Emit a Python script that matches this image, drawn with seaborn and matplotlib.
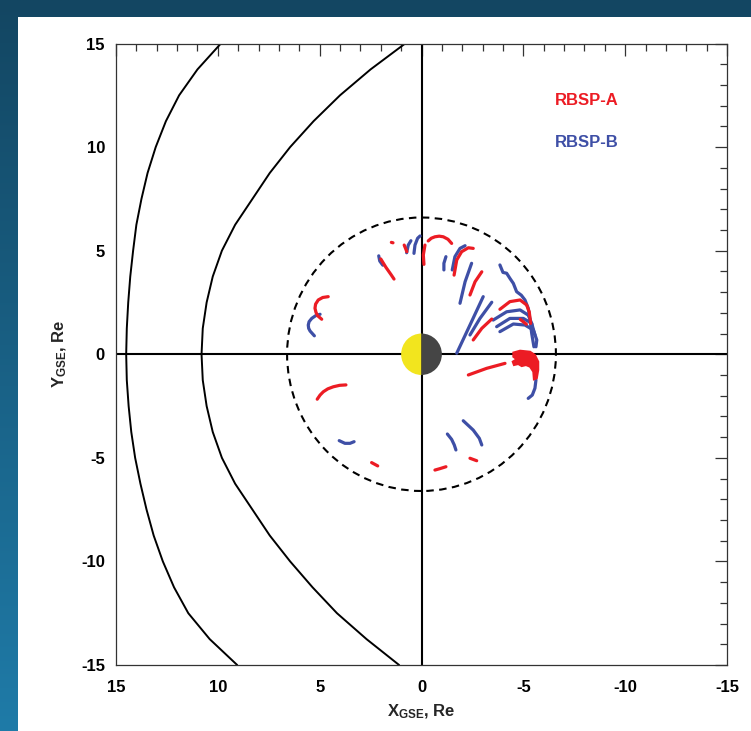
import numpy as np
import pandas as pd
import matplotlib
matplotlib.use("Agg")
import matplotlib.pyplot as plt
from matplotlib.patches import Circle, Wedge, Rectangle
from matplotlib.ticker import MultipleLocator
import seaborn as sns

sns.set_theme(style="white")
plt.rcParams["font.family"] = ["Liberation Sans", "DejaVu Sans"]
plt.rcParams["font.weight"] = "bold"
plt.rcParams["mathtext.fontset"] = "custom"
plt.rcParams["mathtext.rm"] = "Liberation Sans:bold"
plt.rcParams["mathtext.it"] = "Liberation Sans:bold"
plt.rcParams["mathtext.bf"] = "Liberation Sans:bold"

# ---------------------------------------------------------------- data
X_TICKS = [15, 10, 5, 0, -5, -10, -15]
Y_TICKS = [-15, -10, -5, 0, 5, 10, 15]
GEO_RADIUS = 6.6
EARTH_RADIUS = 1.0

# magnetopause (X, Y) in Re
MP_X = [0.8, 2.5, 4.0, 5.3, 6.45, 7.45, 8.3, 9.15, 9.8, 10.25, 10.55, 10.74, 10.8,
        10.74, 10.55, 10.25, 9.8, 9.15, 8.3, 7.45, 6.45, 5.35, 4.15, 2.7, 1.1]
MP_Y = [15.0, 13.75, 12.5, 11.25, 10.0, 8.75, 7.5, 6.25, 5.0, 3.75, 2.5, 1.25, 0.0,
        -1.25, -2.5, -3.75, -5.0, -6.25, -7.5, -8.75, -10.0, -11.25, -12.5, -13.75, -15.0]

# bow shock (X, Y) in Re
BS_X = [9.85, 11.0, 11.9, 12.55, 13.05, 13.45, 13.75, 14.0, 14.16, 14.3, 14.4, 14.47, 14.5,
        14.47, 14.38, 14.25, 14.06, 13.8, 13.5, 13.15, 12.7, 12.15, 11.45, 10.4, 9.05]
BS_Y = [15.0, 13.75, 12.5, 11.25, 10.0, 8.75, 7.5, 6.25, 5.0, 3.75, 2.5, 1.25, 0.0,
        -1.25, -2.5, -3.75, -5.0, -6.25, -7.5, -8.75, -10.0, -11.25, -12.5, -13.75, -15.0]

# RBSP-A track pieces, (X, Y) in Re
A_01 = [(1.48, 5.40), (1.40, 5.38)]
A_02 = [(0.85, 5.27), (0.78, 5.10), (0.72, 4.95)]
A_03 = [(2.0, 4.6), (1.75, 4.2), (1.5, 3.85), (1.35, 3.63)]
A_04 = [(4.58, 2.78), (4.85, 2.74), (5.07, 2.62), (5.2, 2.42), (5.23, 2.22), (5.18, 2.02),
        (5.10, 1.86), (4.90, 1.69)]
A_05 = [(-0.33, 5.47), (-0.48, 5.6), (-0.66, 5.67), (-0.87, 5.7), (-1.07, 5.67),
        (-1.3, 5.55), (-1.48, 5.35)]
A_06 = [(-0.17, 5.27), (-0.09, 4.79), (-0.12, 4.34)]
A_07 = [(-1.60, 3.82), (-1.73, 4.55), (-1.97, 4.95), (-2.30, 5.14), (-2.54, 5.11)]
A_08 = [(-2.38, 2.86), (-2.63, 3.50), (-2.96, 3.98)]
A_09 = [(-2.54, 0.69), (-2.96, 1.25), (-3.45, 1.70)]
A_10 = [(-3.85, 2.17), (-4.34, 2.54), (-4.84, 2.62), (-5.16, 2.38), (-5.29, 2.05), (-5.36, 1.49)]
A_11 = [(-4.85, 1.68), (-5.15, 1.45)]
A_12 = [(-2.30, -1.00), (-3.20, -0.68), (-4.10, -0.44)]
A_13 = [(-2.38, -5.02), (-2.71, -5.14)]
A_14 = [(-0.66, -5.59), (-0.91, -5.52), (-1.20, -5.43)]
A_15 = [(5.12, -2.17), (4.98, -1.97), (4.82, -1.81), (4.6, -1.67), (4.33, -1.57),
        (4.02, -1.5), (3.71, -1.48)]
A_16 = [(2.45, -5.23), (2.15, -5.39)]
# dense cluster of RBSP-A points near the dusk-side crossing
A_CLUSTER = [(-4.51, 0.08), (-4.84, 0.17), (-5.33, 0.12), (-5.57, -0.04), (-5.73, -0.36),
             (-5.73, -0.76), (-5.66, -1.16), (-5.52, -1.21), (-5.49, -0.84), (-5.33, -0.60),
             (-5.13, -0.52), (-4.92, -0.57), (-4.75, -0.47), (-4.54, -0.52), (-4.48, -0.36),
             (-4.67, -0.24), (-4.51, -0.12)]

# RBSP-B track pieces, (X, Y) in Re
B_01 = [(0.73, 4.90), (0.65, 5.27), (0.52, 5.48)]
B_02 = [(0.37, 4.87), (0.32, 5.27), (0.19, 5.60), (0.07, 5.71)]
B_03 = [(2.1, 4.75), (2.05, 4.5), (1.9, 4.3)]
B_04 = [(4.98, 1.93), (5.2, 1.86), (5.39, 1.73), (5.52, 1.57), (5.56, 1.41), (5.54, 1.25),
        (5.47, 1.12), (5.26, 0.89)]
B_05 = [(-1.20, 4.71), (-1.10, 4.39), (-1.10, 4.07)]
B_06 = [(-1.51, 4.07), (-1.64, 4.71), (-1.89, 5.11), (-2.14, 5.24)]
B_07 = [(-1.89, 2.46), (-2.14, 3.50), (-2.46, 4.39)]
B_08 = [(-1.73, 0.05), (-2.38, 1.41), (-3.03, 2.78)]
B_09 = [(-2.38, 0.93), (-2.87, 1.73), (-3.45, 2.51)]
B_10 = [(-3.85, 4.31), (-4.00, 3.95), (-4.18, 3.91), (-4.35, 3.65), (-4.51, 3.42), (-4.67, 3.02),
        (-4.90, 2.85), (-5.08, 2.62), (-5.24, 2.22), (-5.33, 1.66), (-5.41, 1.01), (-5.52, 0.36)]
B_11 = [(-3.52, 1.65), (-4.18, 2.05), (-4.84, 2.14), (-5.24, 1.89), (-5.41, 1.49), (-5.49, 1.01)]
B_12 = [(-3.69, 1.33), (-4.34, 1.73), (-5.00, 1.73), (-5.41, 1.49), (-5.57, 0.93)]
B_13 = [(-3.85, 1.09), (-4.51, 1.46), (-5.08, 1.41), (-5.49, 1.17), (-5.66, 0.69), (-5.62, 0.36)]
B_14 = [(-5.62, -1.24), (-5.57, -1.64), (-5.44, -1.97), (-5.24, -2.13)]
B_15 = [(-2.05, -3.21), (-2.54, -3.66), (-2.84, -4.06), (-2.96, -4.38)]
B_16 = [(-1.27, -3.85), (-1.48, -4.11), (-1.61, -4.38), (-1.69, -4.62)]
B_17 = [(4.04, -4.17), (3.76, -4.30), (3.51, -4.30), (3.31, -4.22)]

TRACKS_A = [A_01, A_02, A_03, A_04, A_05, A_06, A_07, A_08, A_09, A_10,
            A_11, A_12, A_13, A_14, A_15, A_16]
TRACKS_B = [B_01, B_02, B_03, B_04, B_05, B_06, B_07, B_08, B_09, B_10,
            B_11, B_12, B_13, B_14, B_15, B_16, B_17]

COLOR_A = "#ec1c24"
COLOR_B = "#3e4fa6"


def tracks_frame(tracks, name):
    rows = []
    for k, seg in enumerate(tracks):
        for x, y in seg:
            rows.append({"sat": name, "seg": f"{name}-{k}", "x": x, "y": y})
    return rows


tracks = pd.DataFrame(tracks_frame(TRACKS_B, "RBSP-B") + tracks_frame(TRACKS_A, "RBSP-A"))
bounds = pd.DataFrame(
    [{"curve": "mp", "x": x, "y": y} for x, y in zip(MP_X, MP_Y)]
    + [{"curve": "bs", "x": x, "y": y} for x, y in zip(BS_X, BS_Y)]
)

# ---------------------------------------------------------------- figure
W, H = 751, 731
fig = plt.figure(figsize=(W / 100, H / 100), dpi=100)

# blue gradient backdrop with the white panel on top
bg = fig.add_axes([0, 0, 1, 1], zorder=-10)
bg.set_axis_off()
top = np.array([0x13, 0x46, 0x62]) / 255
bot = np.array([0x1f, 0x7b, 0xa8]) / 255
t = np.linspace(0, 1, 256)[:, None, None]
grad = top * (1 - t) + bot * t
grad = np.repeat(grad, 4, axis=1)
bg.imshow(grad, aspect="auto", extent=[0, 1, 0, 1], origin="upper")
bg.add_patch(Rectangle((18 / W, 0), 1 - 18 / W, 1 - 17 / H, color="white", lw=0))
bg.set_xlim(0, 1)
bg.set_ylim(0, 1)

L, R, T, B = 116, 727, 43.5, 665
ax = fig.add_axes([L / W, 1 - B / H, (R - L) / W, (B - T) / H])
ax.set_facecolor("none")

# reference axes through the origin
ax.axhline(0, color="black", lw=1.5, zorder=1)
ax.axvline(0, color="black", lw=1.5, zorder=1)

# model boundaries
sns.lineplot(data=bounds, x="x", y="y", units="curve", estimator=None, sort=False,
             color="black", lw=1.4, ax=ax, zorder=2)

# geosynchronous orbit
ax.add_patch(Circle((0, 0), GEO_RADIUS, fill=False, ec="black", lw=1.5,
                    ls=(0, (3.6, 2.6)), zorder=2))

# spacecraft tracks
sns.lineplot(data=tracks, x="x", y="y", hue="sat", units="seg", estimator=None, sort=False,
             palette={"RBSP-A": COLOR_A, "RBSP-B": COLOR_B}, lw=2.3, legend=False,
             ax=ax, zorder=3)
cx, cy = zip(*A_CLUSTER)
ax.fill(cx, cy, color=COLOR_A, lw=1.5, ec=COLOR_A, zorder=3)

# Earth: dayside yellow, nightside dark
ax.add_patch(Wedge((0, 0), EARTH_RADIUS, -90, 90, color="#f2e51e", lw=0, zorder=4))
ax.add_patch(Wedge((0, 0), EARTH_RADIUS, 90, 270, color="#454545", lw=0, zorder=4))

ax.text(-6.55, 12.25, "RBSP-A", color=COLOR_A, fontsize=12, fontweight="bold",
        ha="left", va="center")
ax.text(-6.55, 10.2, "RBSP-B", color=COLOR_B, fontsize=12, fontweight="bold",
        ha="left", va="center")

ax.set_xlim(15, -15)
ax.set_ylim(-15, 15)
ax.set_xticks(X_TICKS)
ax.set_yticks(Y_TICKS)
ax.set_xticklabels([str(v) for v in X_TICKS])
ax.set_yticklabels([str(v) for v in Y_TICKS])
ax.xaxis.set_minor_locator(MultipleLocator(1))
ax.yaxis.set_minor_locator(MultipleLocator(1))
ax.tick_params(which="both", direction="in", top=True, right=True, color="#333333",
               width=0.9, labelsize=12, labelcolor="black")
ax.tick_params(which="major", length=8.5)
ax.tick_params(which="minor", length=4.8)
ax.tick_params(axis="x", which="major", pad=11)
ax.tick_params(axis="y", which="major", pad=8)
for lab in ax.get_xticklabels() + ax.get_yticklabels():
    lab.set_fontweight("bold")
for s in ax.spines.values():
    s.set_color("#333333")
    s.set_linewidth(0.9)

ax.set_xlabel(r"X$_{\rm GSE}$, Re", fontsize=12, fontweight="bold", va="center")
ax.set_ylabel(r"Y$_{\rm GSE}$, Re", fontsize=12, fontweight="bold", va="center")
ax.xaxis.set_label_coords(0.5, (B - 712) / (B - T))
ax.yaxis.set_label_coords((60 - L) / (R - L), 0.5)

fig.savefig("out.png", dpi=100)
